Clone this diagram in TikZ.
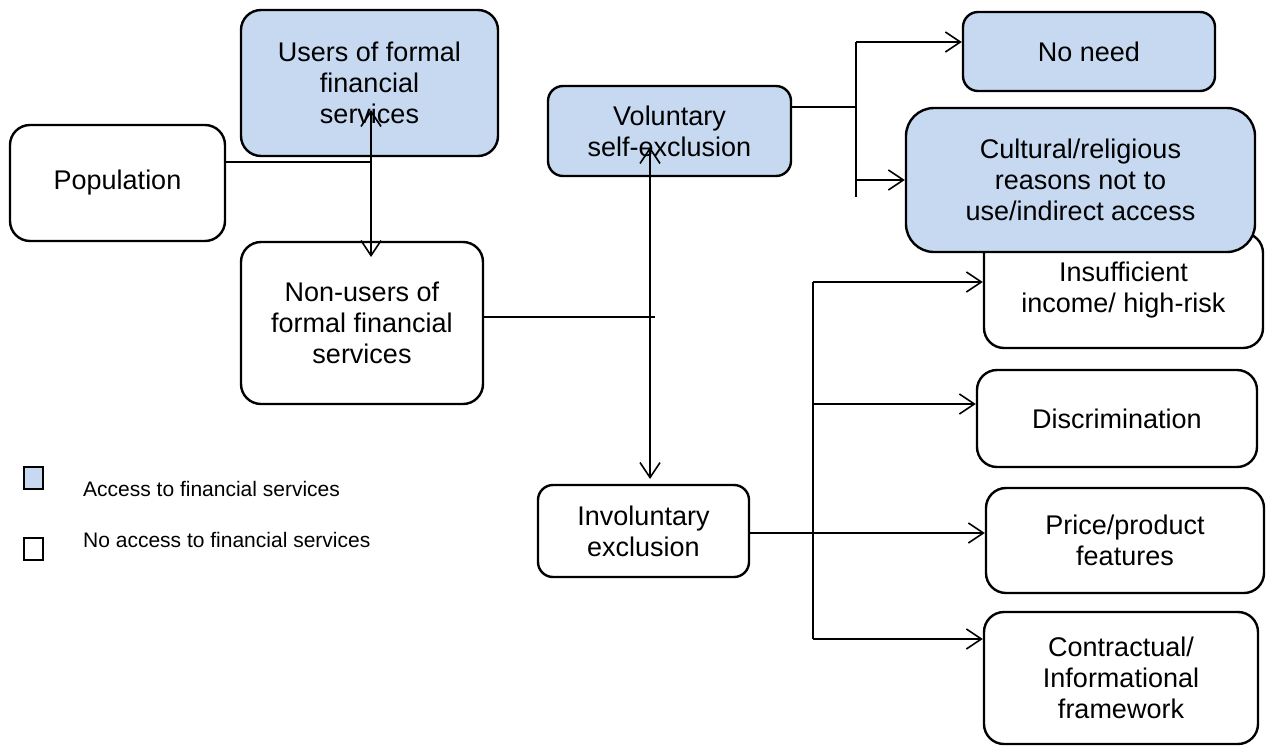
\documentclass[tikz,border=0pt]{standalone}
\usepackage{fontspec}
\setmainfont{Liberation Sans}
\usetikzlibrary{arrows.meta}
\definecolor{accblue}{HTML}{C6D9F1}
\begin{document}
\begin{tikzpicture}[x=1pt,y=-1pt,
  box/.style={draw, line width=2.4pt, rounded corners=20pt, align=center, inner sep=0pt, font=\fontsize{27}{31}\selectfont},
  acc/.style={box, fill=accblue},
  noacc/.style={box, fill=white},
  conn/.style={line width=1.6pt},
  arr/.style={conn, -{Straight Barb[length=15pt,width=20pt,line width=1.6pt]}},
  legtext/.style={anchor=west, inner sep=0pt, font=\fontsize{21}{25}\selectfont},
  legbox/.style={draw, line width=2pt, minimum width=19pt, minimum height=22pt, inner sep=0pt}
]
\useasboundingbox (0,0) rectangle (1267,745);

\node[noacc, minimum width=215pt, minimum height=116pt] (pop) at (117.5,183) {Population};
\node[acc, minimum width=257pt, minimum height=146pt] (users) at (369.5,83) {Users of formal\\financial\\services};
\node[noacc, minimum width=242pt, minimum height=162pt] (nonusers) at (362,323) {Non-users of\\formal financial\\services};
\node[acc, minimum width=243pt, minimum height=90pt, rounded corners=15pt] (vol) at (669.5,131) {Voluntary\\self-exclusion};
\node[noacc, minimum width=211pt, minimum height=92pt, rounded corners=15pt] (invol) at (643.5,531) {Involuntary\\exclusion};
\node[acc, minimum width=252pt, minimum height=79pt, rounded corners=15pt] (noneed) at (1089,51.5) {No need};
\node[noacc, minimum width=279pt, minimum height=115pt] (insuf) at (1123.5,290.5) {Insufficient\\income/ high-risk};
\node[acc, minimum width=349pt, minimum height=144pt, rounded corners=28pt] (cult) at (1080.5,180) {Cultural/religious\\reasons not to\\use/indirect access};
\node[noacc, minimum width=280pt, minimum height=97pt] (discr) at (1117,418.5) {Discrimination};
\node[noacc, minimum width=278pt, minimum height=105pt] (price) at (1125,540.5) {Price/product\\features};
\node[noacc, minimum width=274pt, minimum height=132pt] (contr) at (1121,678) {Contractual/\\Informational\\framework};

% Population -> users / non-users
\coordinate (j1) at (371,162);
\coordinate (usersTip) at (371,110);
\coordinate (nonusersTip) at (371,257);
\draw[conn] (pop.east |- j1) -- (j1);
\draw[arr] (j1) -- (usersTip);
\draw[arr] (j1) -- (nonusersTip);

% Non-users -> voluntary / involuntary
\coordinate (j2) at (650,317);
\coordinate (j2e) at (655,317);
\coordinate (volTip) at (650,147);
\coordinate (involTip) at (650,479);
\draw[conn] (nonusers.east |- j2) -- (j2e);
\draw[arr] (j2) -- (volTip);
\draw[arr] (j2) -- (involTip);

% Voluntary -> reasons
\coordinate (j3) at (856,107);
\coordinate (b3top) at (856,42);
\coordinate (b3bot) at (856,197);
\coordinate (b3c) at (856,180);
\draw[conn] (vol.east |- j3) -- (j3);
\draw[conn] (b3top) -- (b3bot);
\draw[arr] (b3top) -- (noneed.west |- b3top);
\draw[arr] (b3c) -- (cult.west |- b3c);

% Involuntary -> reasons
\coordinate (j4) at (813,533);
\coordinate (b4top) at (813,282);
\coordinate (b4bot) at (813,639);
\coordinate (b4d) at (813,404);
\draw[conn] (b4top) -- (b4bot);
\draw[arr] (invol.east |- j4) -- (price.west |- j4);
\draw[arr] (b4top) -- (insuf.west |- b4top);
\draw[arr] (b4d) -- (discr.west |- b4d);
\draw[arr] (b4bot) -- (contr.west |- b4bot);

% Legend
\node[legbox, fill=accblue] (leg1) at (33.5,477.5) {};
\node[legbox, fill=white] (leg2) at (33.5,549) {};
\node[legtext] (leg1t) at (83,489) {Access to financial services};
\node[legtext] (leg2t) at (83,540) {No access to financial services};
\end{tikzpicture}
\end{document}
